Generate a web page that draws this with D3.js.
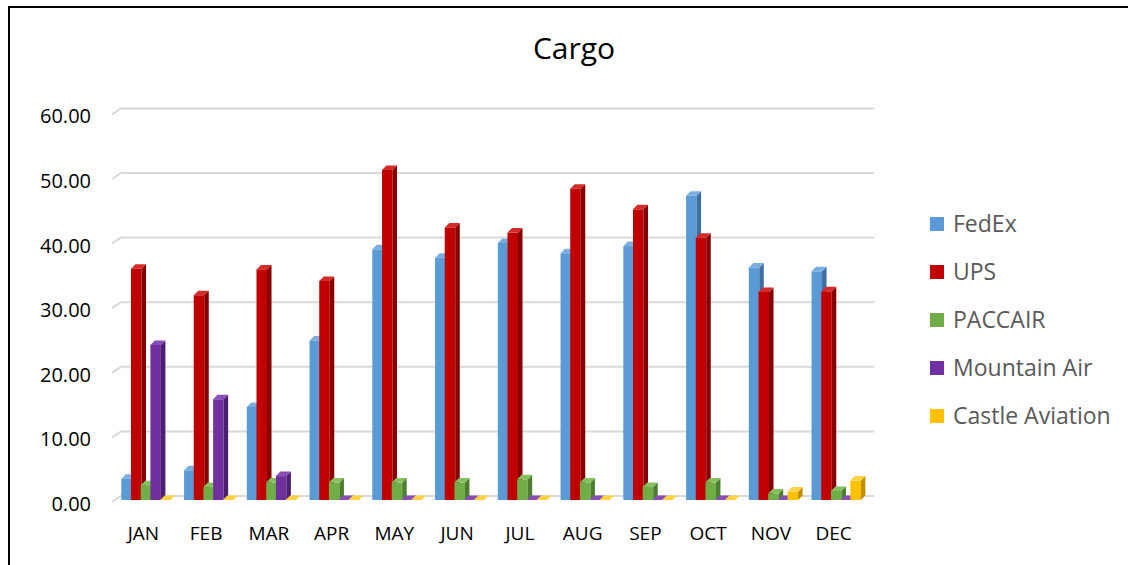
<!DOCTYPE html>
<html>
<head>
<meta charset="utf-8">
<script src="https://cdn.jsdelivr.net/npm/d3@7"></script>
<style>
  body { margin: 0; background: #fff; }
  #chart-container { width: 1128px; height: 565px; }
  text { font-family: "Open Sans", "Noto Sans", sans-serif; }
</style>
</head>
<body>
<div id="chart-container"></div>
<script>
// Chart data
const months = ["JAN", "FEB", "MAR", "APR", "MAY", "JUN", "JUL", "AUG", "SEP", "OCT", "NOV", "DEC"];
const seriesNames = ["FedEx", "UPS", "PACCAIR", "Mountain Air", "Castle Aviation"];
const fedex = [3.3, 4.6, 14.4, 24.7, 38.8, 37.5, 39.8, 38.2, 39.3, 47.1, 36.0, 35.4];
const ups = [35.8, 31.7, 35.7, 33.9, 51.1, 42.2, 41.4, 48.2, 45.0, 40.6, 32.2, 32.3];
const paccair = [2.3, 2.0, 2.7, 2.7, 2.7, 2.7, 3.2, 2.7, 2.0, 2.7, 1.0, 1.4];
const mountainAir = [24.0, 15.6, 3.7, 0, 0, 0, 0, 0, 0, 0, 0, 0];
const castleAviation = [0, 0, 0, 0, 0, 0, 0, 0, 0, 0, 1.3, 3.0];
const yTicks = [0, 10, 20, 30, 40, 50, 60];

const seriesValues = [fedex, ups, paccair, mountainAir, castleAviation];
// front / side / top shades per series
const colors = [
    { front: "#5B9BD5", side: "#3E6F9E", top: "#7AAEE0" },
    { front: "#C00000", side: "#860000", top: "#D42A2A" },
    { front: "#70AD47", side: "#4E7D31", top: "#86C160" },
    { front: "#7030A0", side: "#4C1F70", top: "#8A4DB8" },
    { front: "#FFC000", side: "#C09000", top: "#FFD246" }
];

const width = 1128;
const height = 565;
const depth = 4.5;      // 3D depth of each column
const barW = 10.5;
const barStep = 9.7;
const barOffset = 9.3;

const svg = d3.select("#chart-container")
    .append("svg")
    .attr("width", width)
    .attr("height", height);

svg.append("rect")
    .attr("width", width)
    .attr("height", height)
    .attr("fill", "#fff");

// outer frame (runs off the picture on the right and bottom)
svg.append("path")
    .attr("d", "M9,575 L9,7 L1140,7")
    .attr("fill", "none")
    .attr("stroke", "#000")
    .attr("stroke-width", 2);

svg.append("text")
    .attr("x", 574)
    .attr("y", 59)
    .attr("text-anchor", "middle")
    .attr("font-size", 30)
    .attr("fill", "#000")
    .text("Cargo");

const x = d3.scaleBand().domain(months).range([112, 865]);
const y = d3.scaleLinear().domain([0, 60]).range([500, 112.4]);

// gridlines on the back wall, with the slanted piece on the side wall
svg.append("g")
    .selectAll("path")
    .data(yTicks)
    .join("path")
    .attr("d", d => `M112,${y(d) + 2} L121,${y(d) - 4} L874,${y(d) - 4}`)
    .attr("fill", "none")
    .attr("stroke", "#D9D9D9")
    .attr("stroke-width", 2);

svg.append("g")
    .selectAll("text")
    .data(yTicks)
    .join("text")
    .attr("x", 91)
    .attr("y", d => y(d) + 4)
    .attr("dy", "0.35em")
    .attr("text-anchor", "end")
    .attr("font-size", 20)
    .attr("fill", "#000")
    .text(d => d3.format(".2f")(d));

svg.append("g")
    .selectAll("text")
    .data(months)
    .join("text")
    .attr("x", d => x(d) + x.bandwidth() / 2)
    .attr("y", 533)
    .attr("dy", "0.35em")
    .attr("text-anchor", "middle")
    .attr("font-size", 19)
    .attr("fill", "#000")
    .text(d => d);

// columns: one record per month/series, drawn in series order so later ones sit in front
const bars = [];
months.forEach((m, mi) => {
    seriesValues.forEach((vals, si) => {
        bars.push({ month: m, series: si, value: vals[mi] });
    });
});

const barG = svg.append("g")
    .selectAll("g")
    .data(bars)
    .join("g");

function barX(d) { return x(d.month) + barOffset + d.series * barStep; }

barG.append("rect")
    .attr("x", barX)
    .attr("y", d => y(d.value))
    .attr("width", barW)
    .attr("height", d => y(0) - y(d.value))
    .attr("fill", d => colors[d.series].front);

barG.append("path")
    .attr("d", d => {
        const x0 = barX(d) + barW, yt = y(d.value), yb = y(0);
        return `M${x0},${yt} L${x0 + depth},${yt - depth} L${x0 + depth},${yb - depth} L${x0},${yb} Z`;
    })
    .attr("fill", d => colors[d.series].side);

barG.append("path")
    .attr("d", d => {
        const x0 = barX(d), yt = y(d.value);
        return `M${x0},${yt} L${x0 + barW},${yt} L${x0 + barW + depth},${yt - depth} L${x0 + depth},${yt - depth} Z`;
    })
    .attr("fill", d => colors[d.series].top);

// legend
const legend = svg.append("g")
    .selectAll("g")
    .data(seriesNames)
    .join("g")
    .attr("transform", (d, i) => `translate(930, ${224 + i * 48})`);

legend.append("rect")
    .attr("x", 0)
    .attr("y", -7)
    .attr("width", 14)
    .attr("height", 14)
    .attr("fill", (d, i) => colors[i].front);

legend.append("text")
    .attr("x", 23)
    .attr("y", 0)
    .attr("dy", "0.35em")
    .attr("font-size", 23)
    .attr("fill", "#595959")
    .text(d => d);
</script>
</body>
</html>
